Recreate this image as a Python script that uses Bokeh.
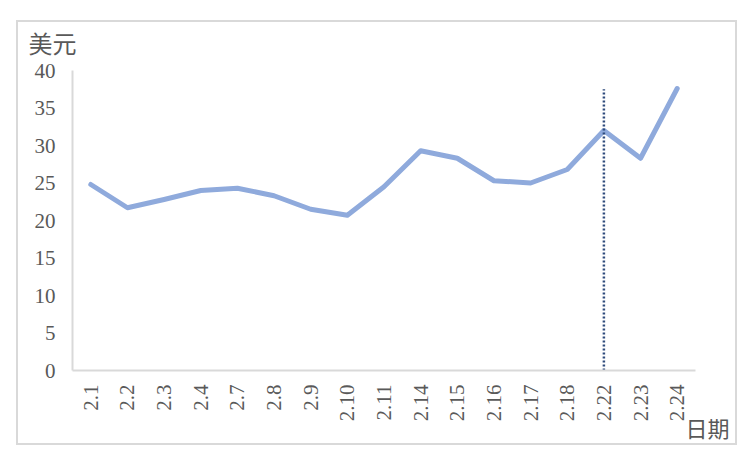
import math
from bokeh.plotting import figure
from bokeh.models import FactorRange, Range1d, FixedTicker, Label
from bokeh.embed import file_html
from bokeh.resources import INLINE

dates = ["2.1", "2.2", "2.3", "2.4", "2.7", "2.8", "2.9", "2.10", "2.11",
         "2.14", "2.15", "2.16", "2.17", "2.18", "2.22", "2.23", "2.24"]
prices = [24.8, 21.7, 22.8, 24.0, 24.3, 23.3, 21.5, 20.7, 24.5,
          29.3, 28.3, 25.3, 25.0, 26.8, 32.0, 28.3, 37.6]
y_ticks = [0, 5, 10, 15, 20, 25, 30, 35, 40]
y_min, y_max = 0, 40
marker_date = "2.22"
marker_top = 37.5
y_unit = "美元"
x_unit = "日期"

# layout (pixels): plot area 623 x 300, extra room around it for the unit labels
W, H = 721, 425
px_per_y = 300 / (y_max - y_min)
pad_top, pad_bottom = 48, 77

p = figure(x_range=FactorRange(*dates, range_padding=1.2,
                               range_padding_units="absolute"),
           y_range=Range1d(y_min - pad_bottom / px_per_y,
                           y_max + pad_top / px_per_y),
           width=W, height=H,
           output_backend="svg", toolbar_location=None,
           min_border=0, min_border_left=10)
p.margin = (20, 0, 0, 16)
p.styles = {"border": "2px solid #D9D9D9"}
p.outline_line_color = None
p.xgrid.grid_line_color = None
p.ygrid.grid_line_color = None

p.line(dates, prices, line_color="#8FAADC", line_width=5,
       line_join="round", line_cap="round")
p.segment(x0=[marker_date], y0=[y_min], x1=[marker_date], y1=[marker_top],
          line_color="#2F4B7C", line_width=2.5, line_dash="2 2")

for ax in (p.xaxis[0], p.yaxis[0]):
    ax.axis_line_color = "#D9D9D9"
    ax.axis_line_width = 2
    ax.major_tick_line_color = None
    ax.minor_tick_line_color = None
    ax.major_tick_out = 0
    ax.major_tick_in = 0
    ax.minor_tick_out = 0
    ax.major_label_text_font = "Liberation Serif"
    ax.major_label_text_font_size = "21px"
    ax.major_label_text_color = "#595959"

p.yaxis.ticker = FixedTicker(ticks=y_ticks)
p.yaxis.bounds = (y_min, y_max)
p.yaxis.fixed_location = 0
p.yaxis.major_label_standoff = 17
p.xaxis.bounds = (0, len(dates))
p.xaxis.fixed_location = y_min
p.xaxis.major_label_orientation = math.pi / 2
p.xaxis.major_label_standoff = 14

p.add_layout(Label(x=-1.2, y=43.8, text=y_unit, text_align="left",
                   text_baseline="middle", text_font="Noto Sans CJK SC",
                   text_font_size="24px", text_color="#595959"))
p.add_layout(Label(x=17.33, y=-7.5, text=x_unit, text_align="center",
                   text_baseline="middle", text_font="Noto Sans CJK SC",
                   text_font_size="22px", text_color="#595959"))

open("out.html", "w").write(file_html(p, INLINE))
